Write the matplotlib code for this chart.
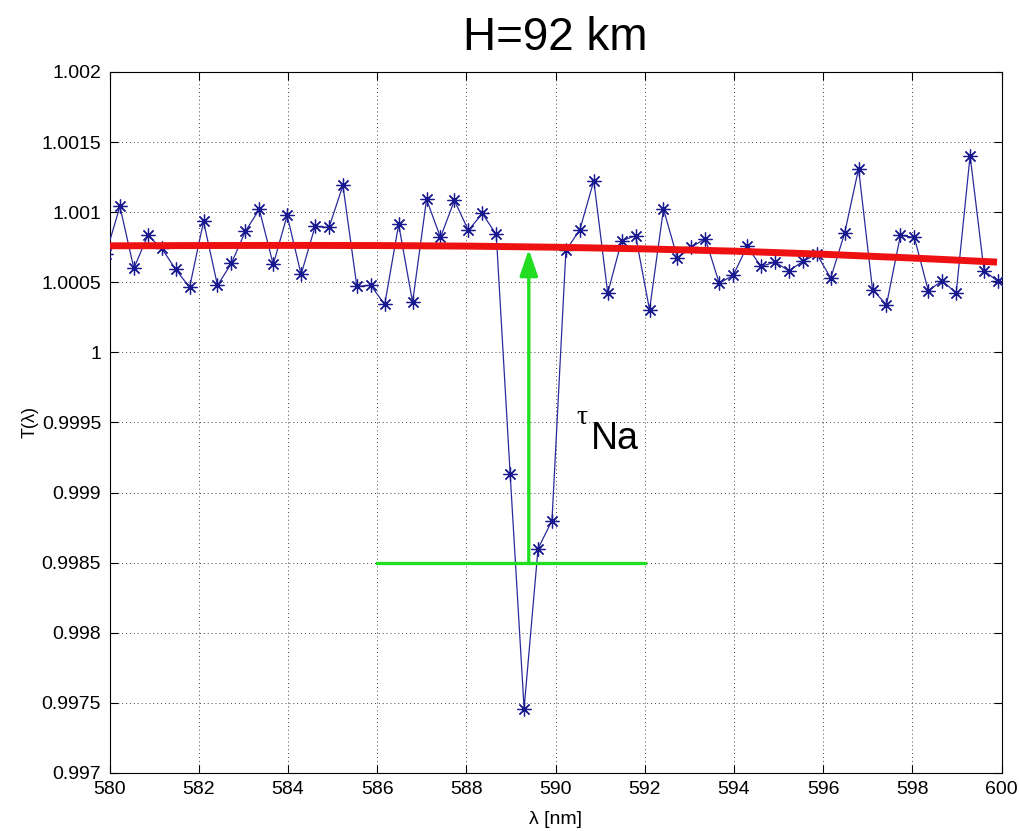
import numpy as np
import matplotlib
matplotlib.use("Agg")
import matplotlib.pyplot as plt

plt.rcParams["font.family"] = ["Liberation Sans", "DejaVu Sans"]

# ------------------------------------------------------------
# Transmission spectrum at H = 92 km (sampled every 0.3125 nm)
# ------------------------------------------------------------
wl_start = 579.92
wl_step = 0.3125

transmission = [
    1.000704,
    1.001041, 1.000599, 1.000834, 1.000742, 1.000592, 1.000464, 1.000934, 1.000478,
    1.000635, 1.000863, 1.001020, 1.000627, 1.000977, 1.000556, 1.000898, 1.000891,
    1.001191, 1.000471, 1.000478, 1.000342, 1.000913, 1.000357, 1.001091, 1.000820,
    1.001084, 1.000870, 1.000991, 1.000841, 0.999132, 0.997460, 0.998600, 0.998800,
    1.000727, 1.000875, 1.001224, 1.000423, 1.000796, 1.000832, 1.000304, 1.001022,
    1.000673, 1.000751, 1.000811, 1.000494, 1.000549, 1.000756, 1.000613,
    1.000644, 1.000582, 1.000649, 1.000701, 1.000530, 1.000851, 1.001310, 1.000447,
    1.000340, 1.000834, 1.000820, 1.000440, 1.000511, 1.000423, 1.001404, 1.000582,
    1.000506,
]
wavelength = wl_start + wl_step * np.arange(len(transmission))

# smooth continuum fit
fit_wl = [580, 582, 584, 586, 588, 590, 592, 594, 596, 598, 599.9]
fit_T = [1.000760, 1.000762, 1.000763, 1.000762, 1.000758, 1.000750,
         1.000738, 1.000722, 1.000700, 1.000673, 1.000644]

# optical depth marker
na_line = 589.4
base_level = 0.9985
base_span = [586, 592]
arrow_top = 1.000735

ytick_labels = ["0.997", "0.9975", "0.998", "0.9985", "0.999", "0.9995",
                "1", "1.0005", "1.001", "1.0015", "1.002"]

fig = plt.figure(figsize=(10.2, 8.31), dpi=100)
ax = fig.add_axes([0.1074, 0.0698, 0.8745, 0.8436])

# MATLAB-style asterisk marker: 8 spokes
ax.plot(wavelength, transmission, color="#2a2a9c", lw=0.9, marker=(8, 2, 0),
        ms=10, mec="#1a1a90", mew=0.9, zorder=3)
ax.plot(fit_wl, fit_T, color="#ee1111", lw=5, solid_capstyle="butt", zorder=4)

ax.plot(base_span, [base_level, base_level], color="#22dd22", lw=2.4, zorder=5)
ax.annotate("", xy=(na_line, arrow_top), xytext=(na_line, base_level),
            arrowprops=dict(arrowstyle="-|>,head_length=1.6,head_width=0.55",
                            color="#22dd22", lw=2.4, shrinkA=0, shrinkB=0),
            zorder=5)

ax.text(590.48, 0.99949, "τ", fontsize=20, family="Liberation Serif")
ax.text(590.8, 0.99931, "Na", fontsize=27)

ax.set_xlim(580, 600)
ax.set_ylim(0.997, 1.002)
ax.set_xticks(np.arange(580, 601, 2))
ax.set_yticks(np.linspace(0.997, 1.002, 11))
ax.set_yticklabels(ytick_labels)
ax.tick_params(direction="in", length=6, labelsize=14, width=0.8, pad=6)
ax.tick_params(top=True, right=True, labeltop=False, labelright=False)
ax.grid(True, linestyle=(0, (1, 3)), color="#444444", lw=0.7)
for s in ax.spines.values():
    s.set_linewidth(0.8)

ax.set_xlabel("λ [nm]", fontsize=14, labelpad=9)
ax.set_ylabel("T(λ)", fontsize=13, labelpad=2)
ax.set_title("H=92 km", fontsize=33, pad=16)

fig.savefig("out.png", dpi=100)
